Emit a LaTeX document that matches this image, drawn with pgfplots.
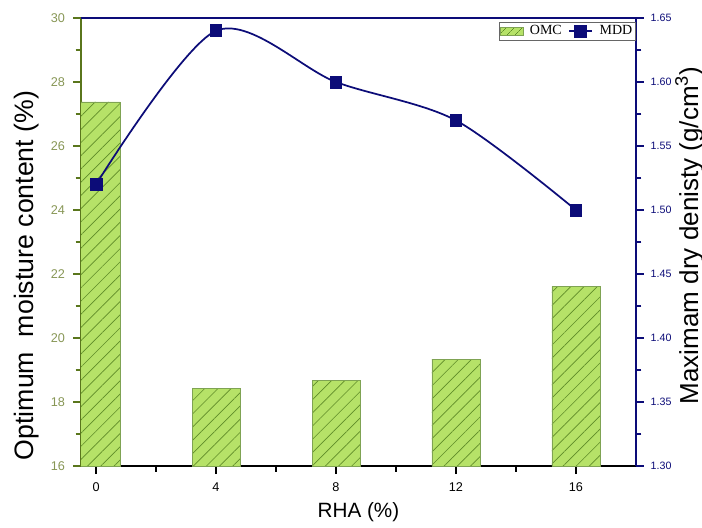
\documentclass[border=0pt]{standalone}
\usepackage{fontspec}
\setmainfont{Liberation Sans}
\newfontfamily\legfont{Liberation Serif}
\usepackage{pgfplots}
\pgfplotsset{compat=1.18}
\usetikzlibrary{patterns.meta}

\definecolor{barfill}{RGB}{182,226,104}
\definecolor{hatch}{RGB}{95,140,40}
\definecolor{olivaxis}{RGB}{90,118,28}
\definecolor{olivtick}{RGB}{135,150,85}
\definecolor{navyline}{RGB}{12,12,120}

\begin{document}
\begin{tikzpicture}
% Optimum moisture content (bars, left axis)
\begin{axis}[
  name=omc,
  scale only axis, width=416pt, height=336pt,
  xmin=-0.5, xmax=18, ymin=16, ymax=30,
  axis x line*=bottom, axis y line*=left,
  x axis line style={black, line width=1.2pt},
  y axis line style={olivaxis, line width=1.2pt},
  xtick pos=bottom, ytick pos=left,
  xtick={0,4,8,12,16}, minor xtick={2,6,10,14},
  ytick={16,18,...,30}, minor ytick={17,19,...,29},
  tick align=outside,
  every tick/.append style={line width=1.4pt},
  every x tick/.append style={black},
  every y tick/.append style={olivaxis},
  tickwidth=6pt, subtickwidth=4pt,
  /pgf/number format/assume math mode=true,
  tick label style={font=\fontsize{9.5}{10}\selectfont},
  x tick label style={yshift=-3pt},
  y tick label style={olivtick, xshift=-2.5pt},
  xlabel={RHA (\%)},
  ylabel={Optimum\ \ moisture content (\%)},
  xlabel style={font=\fontsize{15.5}{17}\selectfont, yshift=-1pt},
  ylabel style={font=\fontsize{20}{22}\selectfont, yshift=2pt, xshift=-25pt},
]
\addplot[ybar, bar width=1.6, draw=hatch!80, line width=0.5pt,
  fill=barfill,
  postaction={pattern={Lines[angle=45,distance=7pt,line width=0.5pt]}, pattern color=hatch}]
  coordinates {(0,27.38) (4,18.44) (8,18.69) (12,19.34) (16,21.62)};
\end{axis}
% Maximum dry density (line, right axis)
\begin{axis}[
  scale only axis, width=416pt, height=336pt,
  xmin=-0.5, xmax=18, ymin=1.30, ymax=1.65,
  axis x line*=top, axis y line*=right,
  x axis line style={navyline, line width=1.2pt},
  y axis line style={navyline, line width=1.2pt},
  xtick=\empty, ytick pos=right,
  ytick={1.30,1.35,...,1.66}, minor ytick={1.325,1.375,...,1.63},
  tick align=outside,
  every tick/.append style={line width=1.4pt, navyline},
  tickwidth=6pt, subtickwidth=4pt,
  /pgf/number format/assume math mode=true,
  /pgf/number format/fixed, /pgf/number format/fixed zerofill,
  /pgf/number format/precision=2,
  tick label style={font=\fontsize{8}{10}\selectfont, navyline, xshift=1.5pt},
  ylabel={Maximam dry denisty (g/cm\textsuperscript{3})},
  ylabel style={font=\fontsize{19.5}{22}\selectfont, yshift=4pt, xshift=5pt},
  legend style={at={(1,1)}, anchor=north east, xshift=0pt, yshift=-3pt,
    draw=black!60, fill=white, font=\legfont\fontsize{10.5}{11}\selectfont,
    inner sep=0.5pt, legend columns=2, column sep=3pt},
  legend cell align=left,
]
\addlegendimage{area legend, draw=hatch!80, fill=barfill,
  postaction={pattern={Lines[angle=45,distance=4pt,line width=0.4pt]}, pattern color=hatch}}
\addlegendentry{OMC}
\addplot[navyline, line width=1.3pt, smooth, tension=0.5,
  mark=square*, mark size=4.2pt, mark options={fill=navyline}]
  coordinates {(0,1.52) (4,1.64) (8,1.60) (12,1.57) (16,1.50)};
\addlegendentry{MDD}
\end{axis}
% page margins around the plot area
\pgfresetboundingbox
\path[use as bounding box] ([shift={(-60.75pt,-45.75pt)}]omc.south west)
  rectangle ([shift={(49.5pt,13.5pt)}]omc.north east);
\end{tikzpicture}
\end{document}
